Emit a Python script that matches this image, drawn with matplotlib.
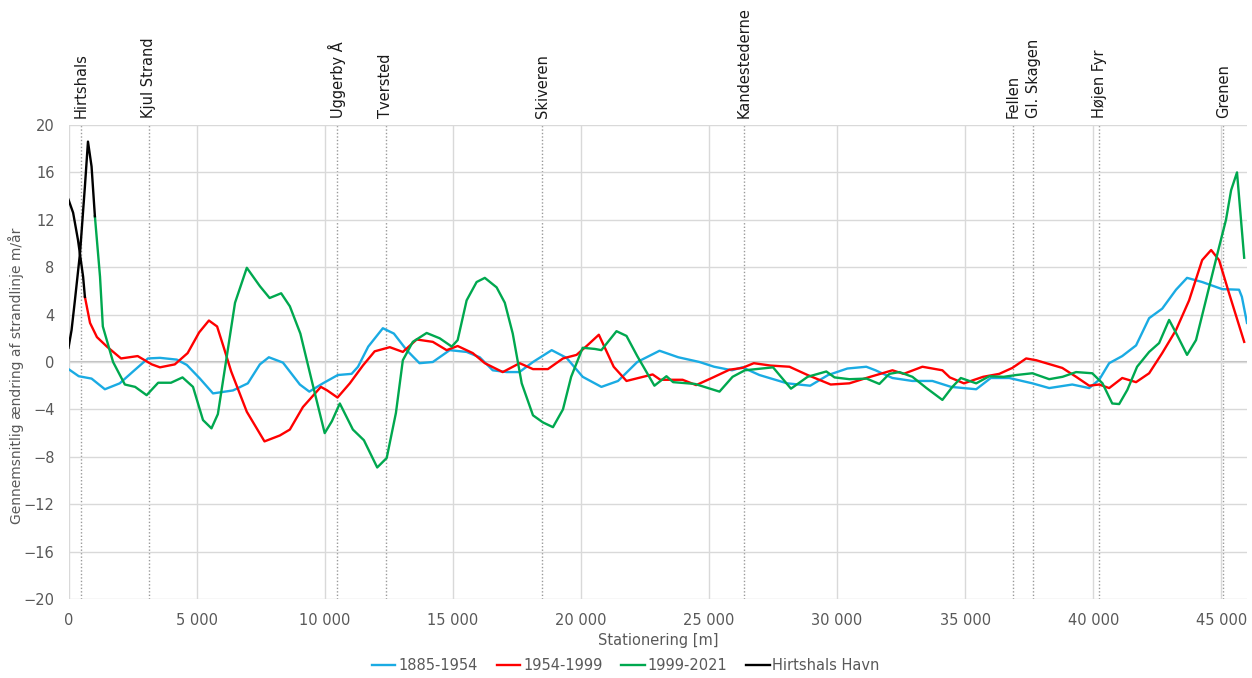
import numpy as np
import matplotlib
matplotlib.use("Agg")
import matplotlib.pyplot as plt
from matplotlib.ticker import FuncFormatter, MultipleLocator

# ---------------- data ----------------
blue_x = [0, 400, 900, 1420, 2000, 2520, 3100, 3570, 4230, 4620, 5130, 5640, 6420, 7000, 7470, 7820,
          8370, 9030, 9400, 9930, 10510, 11050, 11300, 11700, 12270, 12700, 13200, 13700, 14220, 14880,
          15540, 16050, 16560, 17100, 17600, 18130, 18860, 19440, 20070, 20800, 21450, 22200, 23070,
          23800, 24630, 25200, 25900, 26300, 26970, 28050, 28950, 29650, 30400, 31140, 31500, 32160,
          32940, 33720, 34450, 35430, 36000, 36720, 37620, 38280, 39180, 39840, 40230, 40620, 41130,
          41670, 42180, 42690, 43230, 43660, 44250, 45030, 45690, 45800, 46000]
blue_y = [-0.6, -1.2, -1.4, -2.3, -1.8, -0.8, 0.3, 0.35, 0.2, -0.25, -1.4, -2.65, -2.4, -1.8, -0.2, 0.4,
          -0.05, -1.9, -2.5, -1.8, -1.1, -1.0, -0.4, 1.3, 2.85, 2.4, 1.0, -0.1, 0.0, 1.0,
          0.85, 0.4, -0.7, -0.85, -0.85, 0.0, 1.0, 0.35, -1.25, -2.1, -1.6, 0.0, 0.95,
          0.4, 0.0, -0.4, -0.7, -0.45, -1.1, -1.8, -2.0, -1.1, -0.55, -0.4, -0.7, -1.35,
          -1.6, -1.6, -2.1, -2.3, -1.35, -1.35, -1.8, -2.2, -1.9, -2.2, -1.5, -0.1, 0.5,
          1.4, 3.7, 4.5, 6.1, 7.1, 6.75, 6.15, 6.1, 5.5, 3.3]

red_x = [640, 840, 1110, 1500, 2050, 2700, 3250, 3570, 4150, 4650, 5100, 5480, 5800, 6050, 6350, 6960,
         7650, 8250, 8640, 9150, 9850, 10100, 10500, 10980, 11490, 11950, 12540, 13050, 13590, 14220,
         14760, 15190, 15780, 16250, 16950, 17610, 18130, 18710, 19300, 19830, 20250, 20700, 21280,
         21780, 22800, 23100, 23970, 24500, 25160, 25800, 26300, 26750, 27400, 28140, 28850, 29750,
         30480, 31140, 32160, 32600, 33330, 34110, 34400, 34950, 35700, 36330, 36840, 37380, 37770,
         38160, 38790, 39330, 39840, 40230, 40620, 41130, 41670, 42180, 42690, 43230, 43740, 44250,
         44600, 44910, 45300, 45890]
red_y = [5.5, 3.3, 2.1, 1.3, 0.3, 0.5, -0.2, -0.45, -0.2, 0.75, 2.5, 3.5, 3.0, 1.3, -0.8, -4.2,
         -6.7, -6.2, -5.7, -3.8, -2.1, -2.4, -3.0, -1.8, -0.3, 0.9, 1.25, 0.85, 1.9, 1.7,
         1.0, 1.35, 0.75, -0.1, -0.85, -0.1, -0.6, -0.6, 0.3, 0.6, 1.4, 2.3, -0.4,
         -1.6, -1.05, -1.5, -1.5, -1.95, -1.3, -0.65, -0.5, -0.1, -0.3, -0.4, -1.1, -1.9,
         -1.8, -1.35, -0.7, -1.0, -0.4, -0.7, -1.3, -1.8, -1.25, -1.0, -0.5, 0.3, 0.15,
         -0.1, -0.5, -1.25, -2.0, -1.9, -2.2, -1.35, -1.7, -0.95, 0.75, 2.7, 5.2, 8.6,
         9.45, 8.6, 5.8, 1.7]

green_x = [1030, 1230, 1340, 1740, 2200, 2600, 3050, 3500, 4000, 4450, 4860, 5250, 5580, 5830, 6180,
           6500, 6960, 7470, 7850, 8300, 8640, 9050, 9520, 10000, 10280, 10590, 11100, 11530, 12050,
           12420, 12780, 13050, 13440, 13980, 14490, 14960, 15190, 15540, 15930, 16250, 16710, 17030,
           17340, 17690, 18130, 18520, 18910, 19300, 19620, 20070, 20550, 20800, 21390, 21780, 22200,
           22870, 23340, 23600, 24450, 25410, 25920, 26400, 27500, 28200, 28850, 29580, 29900, 30480,
           31150, 31650, 32040, 32430, 32940, 33490, 34110, 34500, 34830, 35430, 35940, 36500, 36990,
           37620, 38280, 38800, 39330, 39960, 40360, 40740, 41010, 41330, 41710, 42180, 42570, 42960,
           43230, 43660, 44010, 44520, 44910, 45180, 45380, 45610, 45890]
green_y = [12.3, 7.2, 3.0, 0.0, -1.9, -2.1, -2.8, -1.75, -1.75, -1.3, -2.1, -4.9, -5.6, -4.4, 0.5,
           5.0, 7.95, 6.4, 5.4, 5.8, 4.7, 2.4, -1.8, -6.0, -5.0, -3.5, -5.7, -6.6, -8.9,
           -8.1, -4.3, 0.15, 1.7, 2.45, 2.0, 1.3, 1.85, 5.2, 6.75, 7.1, 6.3, 5.0,
           2.4, -1.8, -4.5, -5.1, -5.5, -4.0, -1.25, 1.2, 1.1, 1.0, 2.6, 2.2, 0.5,
           -2.0, -1.2, -1.7, -1.85, -2.5, -1.25, -0.7, -0.45, -2.25, -1.25, -0.8, -1.3, -1.45,
           -1.4, -1.85, -1.0, -0.85, -1.25, -2.2, -3.2, -2.1, -1.35, -1.8, -1.2, -1.25, -1.1,
           -0.95, -1.45, -1.25, -0.85, -0.95, -1.8, -3.5, -3.55, -2.35, -0.4, 0.85, 1.6, 3.55,
           2.45, 0.6, 1.85, 6.3, 9.7, 12.0, 14.5, 16.0, 8.8]

havn_x = [0, 180, 370, 570, 640, np.nan, 0, 120, 250, 450, 640, 760, 900, 1030]
havn_y = [13.7, 12.6, 10.3, 7.2, 5.5, np.nan, 1.2, 2.7, 5.2, 9.2, 14.8, 18.6, 16.5, 12.3]

places = ["Hirtshals", "Kjul Strand", "Uggerby Å", "Tversted", "Skiveren", "Kandestederne",
          "Fellen", "Gl. Skagen", "Højen Fyr", "Grenen"]
place_x = [490, 3140, 10470, 12380, 18500, 26380, 36870, 37650, 40230, 45070]

series_labels = ["1885-1954", "1954-1999", "1999-2021", "Hirtshals Havn"]
series_colors = ["#1AABE3", "#FF0000", "#00A84F", "#000000"]

# ---------------- plot ----------------
plt.rcParams['font.family'] = ['DejaVu Sans']
fig = plt.figure(figsize=(12.52, 6.78), dpi=100)
ax = fig.add_axes([68.5 / 1252, 79 / 678, (1247 - 68.5) / 1252, (599 - 125) / 678])

grey = "#595959"
ax.set_xlim(0, 46000)
ax.set_ylim(-20, 20)
ax.xaxis.set_major_locator(MultipleLocator(5000))
ax.yaxis.set_major_locator(MultipleLocator(4))
ax.xaxis.set_major_formatter(FuncFormatter(lambda v, p: f"{int(v):,}".replace(",", " ")))
ax.grid(True, color="#d9d9d9", linewidth=1.0, zorder=0)
ax.axhline(0, color="#bfbfbf", linewidth=1.5, zorder=1)
for s in ax.spines.values():
    s.set_visible(False)
ax.tick_params(length=0, colors=grey, labelsize=10.5)
ax.tick_params(axis="y", pad=10)
ax.tick_params(axis="x", pad=10)

for xp, name in zip(place_x, places):
    ax.axvline(xp, color="#999999", linestyle=(0, (1, 1.5)), linewidth=1.0, zorder=1)
    ax.text(xp, 20.6, name, rotation=90, ha="center", va="bottom", fontsize=10.5, color="#1a1a1a")

data = [(blue_x, blue_y), (red_x, red_y), (green_x, green_y), (havn_x, havn_y)]
for (xs, ys), lab, col in zip(data, series_labels, series_colors):
    ax.plot(xs, ys, color=col, linewidth=1.7, label=lab, zorder=3, solid_joinstyle="round")

ax.set_xlabel("Stationering [m]", color=grey, fontsize=10.5, labelpad=4)
ax.set_ylabel("Gennemsnitlig ændring af strandlinje m/år", color=grey, fontsize=10)
ax.yaxis.set_label_coords(-0.038, 0.47)

fig.legend(loc="lower center", bbox_to_anchor=(0.5, -0.012), ncol=4, frameon=False,
           fontsize=10.5, handlelength=1.6, handletextpad=0.2, columnspacing=1.3,
           labelcolor=grey)

fig.savefig("out.png", dpi=100)
